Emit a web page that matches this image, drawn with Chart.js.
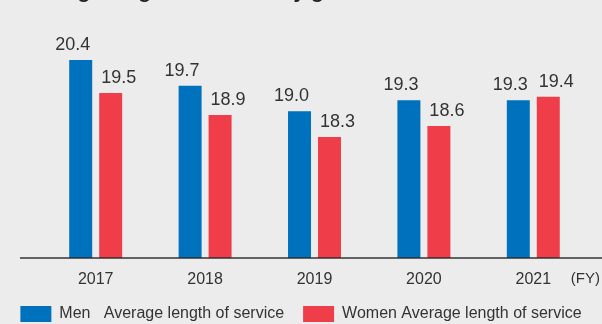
<!DOCTYPE html>
<html>
<head>
<meta charset="utf-8">
<script src="https://cdn.jsdelivr.net/npm/chart.js@4"></script>
<style>
  html, body { margin: 0; padding: 0; background: #ececec; }
  .chart-box { width: 602px; height: 324px; position: relative; }
</style>
</head>
<body>
<div class="chart-box"><canvas id="chart"></canvas></div>
<script>
// Data
const years = ['2017', '2018', '2019', '2020', '2021'];
const menValues = [20.4, 19.7, 19.0, 19.3, 19.3];
const womenValues = [19.5, 18.9, 18.3, 18.6, 19.4];
const seriesNames = ['Men   Average length of service', 'Women Average length of service'];
const titleText = 'Average length of service by gender';
const axisUnit = '(FY)';
const yMin = 15;
const yMax = 21;

const textColor = '#333333';
const font = '"Liberation Sans", Arial, sans-serif';

// draws the cut-off title, the long baseline, (FY) and the value labels
const decor = {
    id: 'decor',
    afterDatasetsDraw(chart) {
        const ctx = chart.ctx;
        const y = chart.scales.y;
        ctx.save();

        // title sits mostly above the picture, only descenders show
        ctx.fillStyle = '#222';
        ctx.font = 'bold 21px ' + font;
        ctx.textAlign = 'left';
        ctx.textBaseline = 'alphabetic';
        ctx.fillText(titleText, 20, -2);

        // baseline
        const base = y.getPixelForValue(yMin);
        ctx.strokeStyle = 'rgba(40,40,40,0.7)';
        ctx.lineWidth = 2;
        ctx.beginPath();
        ctx.moveTo(20, base);
        ctx.lineTo(chart.width, base);
        ctx.stroke();

        // value labels
        ctx.fillStyle = textColor;
        ctx.font = '18px ' + font;
        ctx.textAlign = 'center';
        chart.data.datasets.forEach((ds, i) => {
            const meta = chart.getDatasetMeta(i);
            meta.data.forEach((bar, j) => {
                const shift = i === 0 ? -8 : 8;
                ctx.fillText(ds.data[j].toFixed(1), bar.x + shift, bar.y - 10);
            });
        });

        // unit next to the last tick
        ctx.font = '15px ' + font;
        ctx.textAlign = 'right';
        ctx.textBaseline = 'top';
        ctx.fillText(axisUnit, 600, base + 13);
        ctx.restore();
    }
};

new Chart(document.getElementById('chart'), {
    type: 'bar',
    data: {
        labels: years,
        datasets: [{
            label: seriesNames[0],
            data: menValues,
            backgroundColor: '#0071bc'
        }, {
            label: seriesNames[1],
            data: womenValues,
            backgroundColor: '#ef3d4a'
        }]
    },
    options: {
        responsive: true,
        maintainAspectRatio: false,
        animation: false,
        categoryPercentage: 0.548,
        barPercentage: 0.767,
        layout: { padding: { top: 38, left: 0, right: 0, bottom: 0 } },
        plugins: {
            tooltip: { enabled: false },
            legend: {
                position: 'bottom',
                align: 'center',
                maxHeight: 37,
                labels: {
                    boxWidth: 31,
                    boxHeight: 16,
                    padding: 19,
                    color: textColor,
                    font: { size: 16, family: font }
                }
            }
        },
        scales: {
            x: {
                grid: { display: false, drawTicks: false },
                border: { display: false },
                ticks: {
                    color: textColor,
                    padding: 12,
                    font: { size: 16, family: font }
                },
                afterFit(scale) { scale.height = 29; }
            },
            y: {
                min: yMin,
                max: yMax,
                grid: { display: false, drawTicks: false },
                border: { display: false },
                ticks: { display: false },
                afterFit(scale) { scale.width = 41; }
            },
            yRight: {
                position: 'right',
                grid: { display: false, drawTicks: false },
                border: { display: false },
                ticks: { display: false },
                afterFit(scale) { scale.width = 14; }
            }
        }
    },
    plugins: [decor]
});
</script>
</body>
</html>
